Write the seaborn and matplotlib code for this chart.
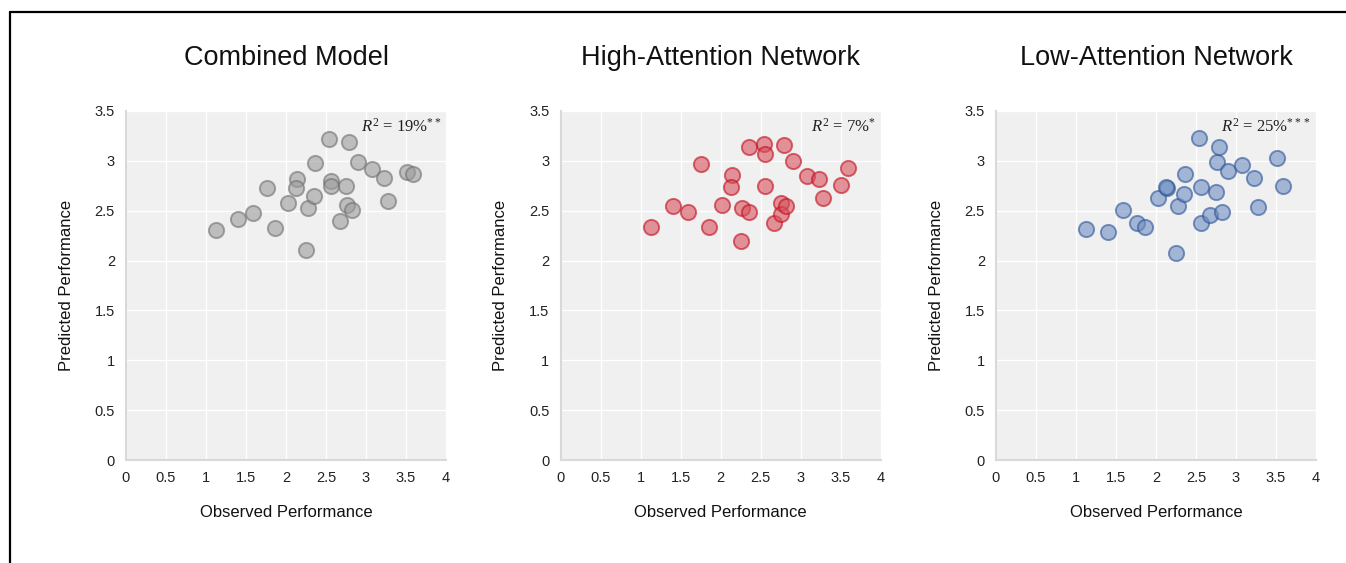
import numpy as np
import pandas as pd
import matplotlib
matplotlib.use("Agg")
import matplotlib.pyplot as plt
import seaborn as sns
from matplotlib.lines import Line2D

# ---- data ----
observed = [1.13, 1.40, 1.59, 1.76, 1.86, 2.02, 2.14, 2.13, 2.27, 2.25, 2.35, 2.36, 2.54,
            2.56, 2.56, 2.67, 2.75, 2.76, 2.82, 2.79, 2.90, 3.08, 3.23, 3.28, 3.51, 3.59]
pred_combined = [2.31, 2.42, 2.48, 2.73, 2.33, 2.58, 2.82, 2.73, 2.53, 2.11, 2.65, 2.98, 3.22,
                 2.80, 2.75, 2.40, 2.75, 2.56, 2.51, 3.19, 2.99, 2.92, 2.83, 2.60, 2.89, 2.87]
pred_high = [2.34, 2.55, 2.49, 2.97, 2.34, 2.56, 2.86, 2.74, 2.53, 2.20, 2.49, 3.14, 3.17,
             3.07, 2.75, 2.38, 2.58, 2.47, 2.55, 3.16, 3.00, 2.85, 2.82, 2.63, 2.76, 2.93]
pred_low = [2.32, 2.29, 2.51, 2.38, 2.34, 2.63, 2.73, 2.74, 2.55, 2.08, 2.67, 2.87, 3.23,
            2.74, 2.38, 2.46, 2.69, 2.99, 2.49, 3.14, 2.90, 2.96, 2.83, 2.54, 3.03, 2.75]
titles = ["Combined Model", "High-Attention Network", "Low-Attention Network"]
r2_labels = [r"$R^2$ = 19%$^{**}$", r"$R^2$ = 7%$^{*}$", r"$R^2$ = 25%$^{***}$"]
x_ticks = [0, 0.5, 1, 1.5, 2, 2.5, 3, 3.5, 4]
y_ticks = [0, 0.5, 1, 1.5, 2, 2.5, 3, 3.5]

face_colors = ["#9c9c9c", "#d8505c", "#6f8fc2"]
edge_colors = ["#707070", "#c0101e", "#2f5597"]

sns.set_theme(style="darkgrid")
plt.rcParams["font.family"] = ["Liberation Sans", "DejaVu Sans"]
plt.rcParams["mathtext.fontset"] = "custom"
plt.rcParams["mathtext.rm"] = "Liberation Serif"
plt.rcParams["mathtext.it"] = "Liberation Serif:italic"

fig = plt.figure(figsize=(13.46, 5.63), dpi=100)
lefts = [126 / 1346, 560.5 / 1346, 996 / 1346]
w = 320 / 1346
b = 1 - 460 / 563
h = 349 / 563

for i, preds in enumerate([pred_combined, pred_high, pred_low]):
    ax = fig.add_axes([lefts[i], b, w, h])
    df = pd.DataFrame({"Observed Performance": observed, "Predicted Performance": preds})
    sns.scatterplot(data=df, x="Observed Performance", y="Predicted Performance", ax=ax,
                    color=face_colors[i], edgecolor=edge_colors[i], linewidth=1.4,
                    s=120, alpha=0.6, zorder=3)
    ax.set_xlim(0, 4)
    ax.set_ylim(0, 3.5)
    ax.set_xticks(x_ticks)
    ax.set_xticklabels([f"{t:g}" for t in x_ticks])
    ax.set_yticks(y_ticks)
    ax.set_yticklabels([f"{t:g}" for t in y_ticks])
    ax.set_facecolor("#f0f0f0")
    ax.grid(True, color="white", linewidth=1.0)
    for side in ["top", "right"]:
        ax.spines[side].set_visible(False)
    for side in ["left", "bottom"]:
        ax.spines[side].set_visible(True)
        ax.spines[side].set_color("#d9d9d9")
        ax.spines[side].set_linewidth(1.5)
    ax.tick_params(axis="both", length=0, labelsize=10.5, colors="#222222", pad=8)
    ax.set_xlabel("Observed Performance", fontsize=12, labelpad=14, color="#111111")
    ax.set_ylabel("Predicted Performance", fontsize=12, labelpad=15, color="#111111")
    ax.set_title(titles[i], fontsize=19.5, pad=33, color="#111111")
    ax.text(0.985, 0.955, r2_labels[i], transform=ax.transAxes, ha="right", va="center",
            fontsize=12, family="Liberation Serif", color="#222222")

# frame lines (top and left) like the reference
fig.add_artist(Line2D([10 / 1346, 1.0], [1 - 12 / 563, 1 - 12 / 563], transform=fig.transFigure,
                      color="black", linewidth=1.6))
fig.add_artist(Line2D([10 / 1346, 10 / 1346], [0, 1 - 12 / 563], transform=fig.transFigure,
                      color="black", linewidth=1.6))

fig.savefig("out.png", dpi=100, facecolor="white")
